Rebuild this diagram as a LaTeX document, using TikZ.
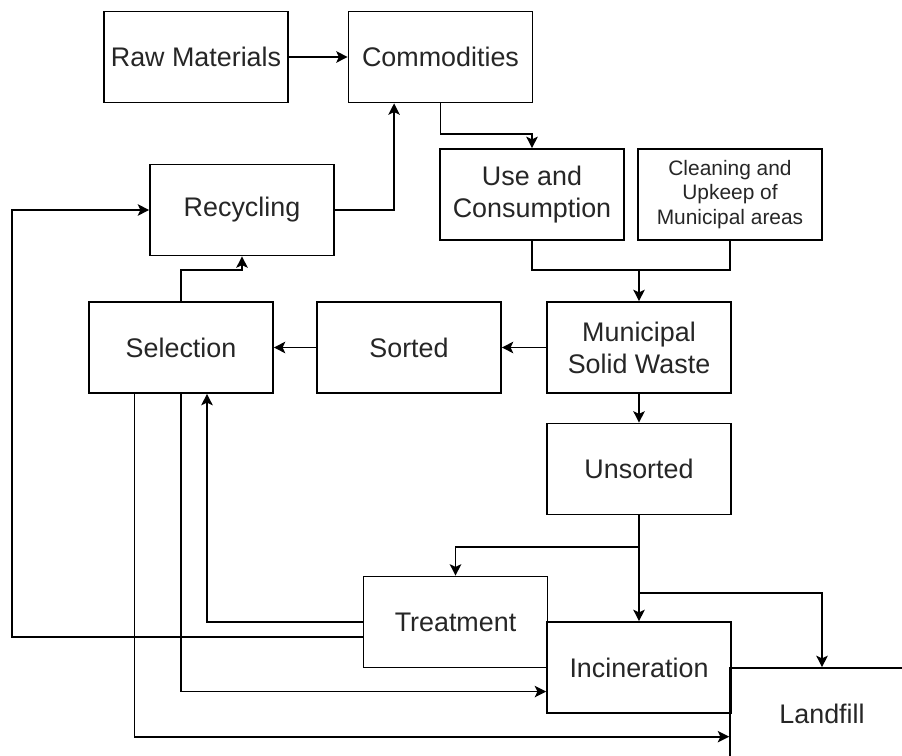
\documentclass[tikz,border=0pt]{standalone}
\usepackage{fontspec}
\setmainfont{Liberation Sans}
\usetikzlibrary{positioning, arrows.meta, calc}
\tikzset{
  >={Stealth[length=6.5pt, width=6.5pt, inset=1.5pt]}, % makes the arrow heads bold
  box/.style={draw, rectangle, minimum width=3.68cm, minimum height=1.82cm,
    align=center, font=\fontsize{15.3}{18.1}\selectfont, text=black!85}, % every process box
  smallbox/.style={box, font=\fontsize{11.9}{13.9}\selectfont}, % box with three lines of text
  flow/.style={->}, % the connectors
}

\begin{document}
\begin{tikzpicture}[x=0.02cm, y=-0.02cm, line width=0.95pt]
  \useasboundingbox[fill=white] (0,0) rectangle (902,756);
  \clip (0,0) rectangle (902,756);

  \node[box] (raw) at (196,57) {Raw Materials};
  \node[box] (commod) at (440.5,57) {Commodities};
  \node[box] (recyc) at (242,210) {Recycling};
  \node[box] (use) at (532,194.5) {Use and\\Consumption};
  \node[smallbox] (clean) at (730,194.5) {Cleaning and\\Upkeep of\\Municipal areas};
  \node[box] (msw) at (639,347.5) {Municipal\\Solid Waste};
  \node[box] (sorted) at (409,347.5) {Sorted};
  \node[box] (select) at (181,347.5) {Selection};
  \node[box] (unsorted) at (639,469) {Unsorted};
  \node[box] (treat) at (455.5,622) {Treatment};
  \node[box] (incin) at (639,667.5) {Incineration};
  \node[box] (landfill) at (822,713.5) {Landfill};

  \coordinate (join) at (639,270);

  \draw[flow] (raw) -- (commod);
  \draw[flow] (commod.south) -- ++(0,31) -| (use.north);
  \draw (use.south) |- (join) -| (clean.south);
  \draw[flow] (join) -- (msw.north);
  \draw[flow] (msw) -- (sorted);
  \draw[flow] (sorted) -- (select);
  \draw[flow] (select.north) -- ++(0,-31) -| (recyc.south);
  \draw[flow] (recyc.east) -| ($(commod.south west)!0.5!(commod.south)$);
  \draw[flow] (msw) -- (unsorted);

  % unsorted waste
  \draw[flow] (unsorted.south) -- (incin.north);
  \draw[flow] (unsorted.south) ++(0,32) -| (treat.north);
  \draw[flow] (unsorted.south) ++(0,78) -| (landfill.north);

  % back from treatment and selection
  \draw[flow] (treat.west) -| ($(select.south)!0.28!(select.south east)$);
  \draw[flow] ($(treat.west)!0.33!(treat.south west)$) -- ++(-351,0) |- (recyc.west);
  \draw[flow] (select.south) |- ($(incin.west)!0.52!(incin.south west)$);
  \draw[flow] ($(select.south)!0.5!(select.south west)$) |- ($(landfill.west)!0.5!(landfill.south west)$);
\end{tikzpicture}
\end{document}
